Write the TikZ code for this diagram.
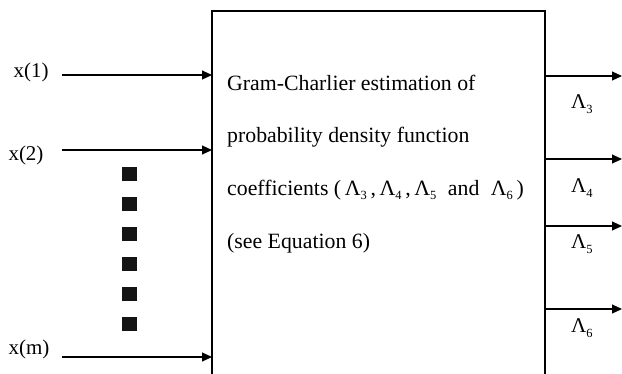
\documentclass[tikz,border=0pt]{standalone}
\usepackage{fontspec}
\setmainfont{Liberation Serif}
\usetikzlibrary{arrows.meta}
\newcommand{\lsub}[1]{\raisebox{-4.5pt}{\fontsize{12.5}{13}\selectfont #1}}
\begin{document}
\begin{tikzpicture}[x=1pt,y=-1pt,
  lbl/.style={inner sep=0pt,font=\fontsize{21}{24}\selectfont},
  boxtext/.style={inner sep=0pt,anchor=base west,font=\fontsize{21.8}{24}\selectfont},
  conn/.style={line width=1.1pt,-{Triangle[length=10pt,width=9pt]}},
  dot/.style={fill=black!92,draw=none,minimum size=14.5pt,inner sep=0pt},
  frame/.style={line width=1.4pt}]
\useasboundingbox (0,0) rectangle (622,373);
% open-bottom box
\coordinate (bl) at (212,390);
\coordinate (tl) at (212,11);
\coordinate (tr) at (545,11);
\coordinate (br) at (545,390);
\draw[frame] (bl) -- (tl) -- (tr) -- (br);
% texts in the box
\node[boxtext] (t1) at (227,90) {Gram-Charlier estimation of};
\node[boxtext] (t2) at (227,142.5) {probability density function};
\node[boxtext] (t3) at (227,195) {coefficients (\,Λ\lsub{3}\,,\,Λ\lsub{4}\,,\,Λ\lsub{5}\; and\; Λ\lsub{6}\,)};
\node[boxtext] (t4) at (227,248) {(see Equation 6)};
% inputs
\node[lbl] (x1) at (31,72) {x(1)};
\node[lbl] (x2) at (26,155) {x(2)};
\node[lbl] (xm) at (29,349) {x(m)};
\coordinate (s1) at (62,75);
\coordinate (s2) at (62,150);
\coordinate (sm) at (62,357);
\coordinate (e1) at (212,75);
\coordinate (e2) at (212,150);
\coordinate (em) at (212,357);
\draw[conn] (s1) -- (e1);
\draw[conn] (s2) -- (e2);
\draw[conn] (sm) -- (em);
% dots
\foreach \i/\y in {1/174,2/204,3/234,4/264,5/294,6/324}
  \node[dot] (d\i) at (129.5,\y) {};
% outputs
\coordinate (o3) at (545,76);
\coordinate (o4) at (545,159);
\coordinate (o5) at (545,226);
\coordinate (o6) at (545,309);
\coordinate (p3) at (622,76);
\coordinate (p4) at (622,159);
\coordinate (p5) at (622,226);
\coordinate (p6) at (622,309);
\draw[conn] (o3) -- (p3);
\draw[conn] (o4) -- (p4);
\draw[conn] (o5) -- (p5);
\draw[conn] (o6) -- (p6);
\node[lbl,anchor=west] (l3) at (571,104) {Λ\lsub{3}};
\node[lbl,anchor=west] (l4) at (571,188) {Λ\lsub{4}};
\node[lbl,anchor=west] (l5) at (571,244) {Λ\lsub{5}};
\node[lbl,anchor=west] (l6) at (571,328) {Λ\lsub{6}};
\end{tikzpicture}
\end{document}
